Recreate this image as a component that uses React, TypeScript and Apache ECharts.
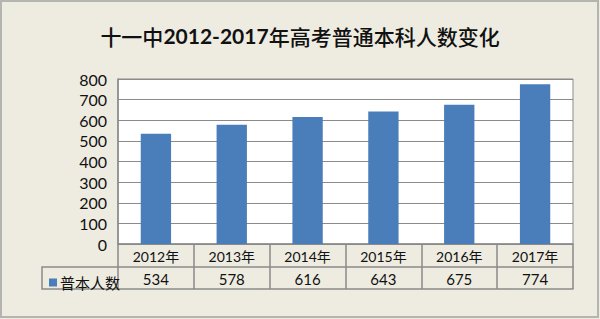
import React, { useEffect, useRef } from "react";
import * as echarts from "echarts";

const categories = ["2012年", "2013年", "2014年", "2015年", "2016年", "2017年"];
const values = [534, 578, 616, 643, 675, 774];
const seriesName = "普本人数";
const titleText = "十一中2012-2017年高考普通本科人数变化";

export default function App() {
  const ref = useRef<HTMLDivElement>(null);
  useEffect(() => {
    if (!ref.current) return;
    const chart = echarts.init(ref.current, null, { renderer: "svg" });
    const gray = "#8a8a8a";
    const font = "Lato, 'Noto Sans CJK SC', sans-serif";
    chart.setOption({
      animation: false,
      backgroundColor: "#EEECE1",
      title: {
        text: "{a|十一中}{b|2012-2017}{a|年高考普通本科人数变化}",
        left: "center",
        top: 20,
        textStyle: {
          rich: {
            a: { fontSize: 21, fontFamily: "'Noto Sans CJK SC', sans-serif", fontWeight: 500, color: "#111" },
            b: { fontSize: 21, fontFamily: "Lato, sans-serif", fontWeight: "bold", color: "#111" },
          },
        },
      },
      legend: {
        data: [seriesName],
        left: 44,
        top: 270,
        icon: "rect",
        itemWidth: 8,
        itemHeight: 8,
        itemGap: 4,
        textStyle: { fontSize: 15, fontFamily: "'Noto Sans CJK SC', sans-serif", color: "#111", padding: [0, 0, 0, -2] },
        selectedMode: false,
      },
      grid: {
        left: 118,
        right: 27,
        top: 79,
        bottom: 75,
        show: true,
        backgroundColor: "#ffffff",
        borderColor: gray,
        borderWidth: 1,
      },
      xAxis: [
        {
          type: "category",
          data: categories,
          position: "bottom",
          axisLine: { show: true, lineStyle: { color: gray, width: 1.5 } },
          axisTick: { show: true, length: 23, interval: 0, lineStyle: { color: gray, width: 1.5 } },
          axisLabel: { margin: 5, fontSize: 14, fontFamily: font, color: "#111", interval: 0 },
        },
        {
          type: "category",
          data: categories,
          position: "bottom",
          offset: 23,
          axisLine: { show: true, lineStyle: { color: gray, width: 1.5 } },
          axisTick: { show: true, length: 22, interval: 0, lineStyle: { color: gray, width: 1.5 } },
          axisLabel: {
            margin: 4,
            fontSize: 15,
            fontFamily: font,
            color: "#111",
            interval: 0,
            formatter: (_v: string, i: number) => String(values[i]),
          },
        },
        {
          type: "category",
          data: categories,
          position: "bottom",
          offset: 45,
          axisLine: { show: true, lineStyle: { color: gray, width: 1.5 } },
          axisTick: { show: false },
          axisLabel: { show: false },
        },
      ],
      yAxis: {
        type: "value",
        min: 0,
        max: 800,
        interval: 100,
        axisLine: { show: true, lineStyle: { color: gray, width: 1.5 } },
        axisTick: { show: false },
        axisLabel: { fontSize: 16, fontFamily: font, color: "#111", margin: 11 },
        splitLine: { show: true, lineStyle: { color: gray, width: 1.2 } },
      },
      series: [
        {
          name: seriesName,
          type: "bar",
          xAxisIndex: 0,
          data: values,
          barWidth: "40%",
          itemStyle: { color: "#4A7EBB" },
        },
      ],
      graphic: [
        {
          type: "polyline",
          shape: { points: [[118, 267], [42, 267], [42, 289], [118, 289]] },
          style: { stroke: gray, lineWidth: 1.5, fill: "none" },
        },
        {
          type: "rect",
          shape: { x: 1, y: 1, width: 597, height: 316 },
          style: { stroke: "#b4b4b0", lineWidth: 2, fill: "none" },
        },
      ],
    });
    return () => chart.dispose();
  }, []);
  return (
    <div
      ref={ref}
      style={{ position: "fixed", left: 0, top: 0, width: 600, height: 319 }}
    />
  );
}
